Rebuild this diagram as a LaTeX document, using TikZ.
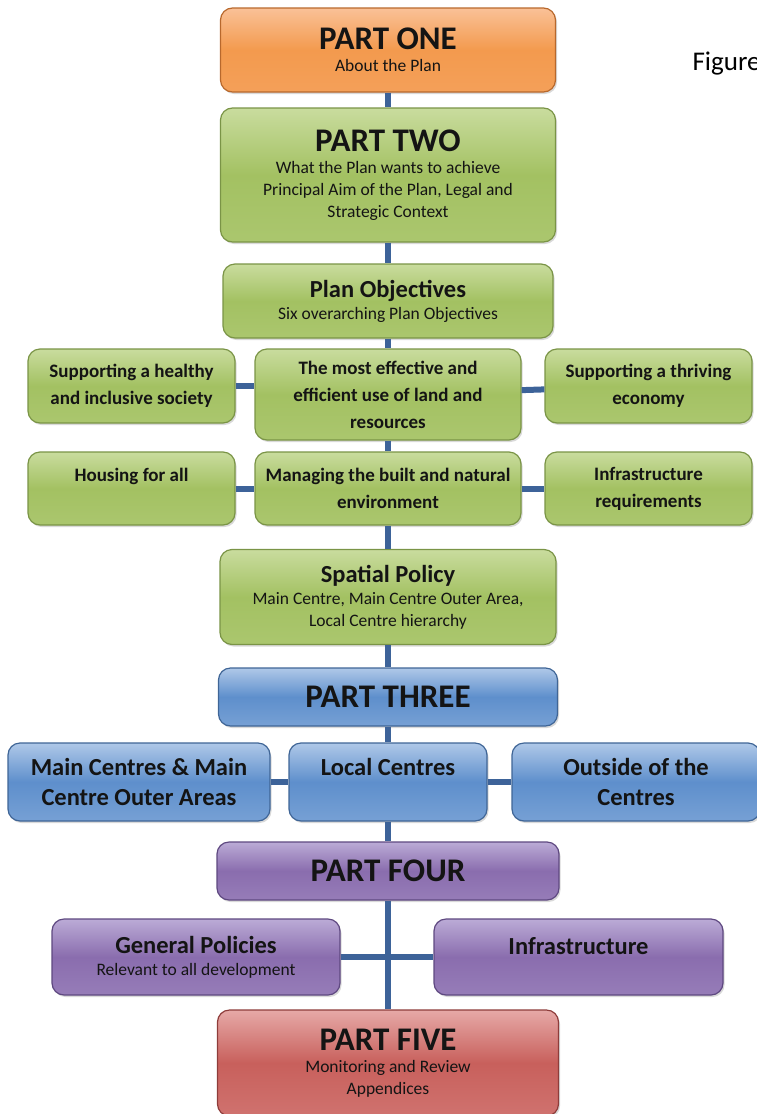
\documentclass[tikz,border=0pt]{standalone}
\usepackage{fontspec}
\setmainfont{Carlito}
\usetikzlibrary{shadows}

\definecolor{spine}{HTML}{3D6399}
\definecolor{orangeL}{HTML}{FAC197}
\definecolor{orangeM}{HTML}{F39A4E}
\definecolor{orangeD}{HTML}{B8682C}
\definecolor{greenL}{HTML}{C9DC9E}
\definecolor{greenM}{HTML}{A3C162}
\definecolor{greenD}{HTML}{7A9446}
\definecolor{blueL}{HTML}{AFC8E8}
\definecolor{blueM}{HTML}{5E8FCC}
\definecolor{blueD}{HTML}{3F6596}
\definecolor{purpleL}{HTML}{BBABD6}
\definecolor{purpleM}{HTML}{8A6DAE}
\definecolor{purpleD}{HTML}{5E4880}
\definecolor{redL}{HTML}{E6A9A7}
\definecolor{redM}{HTML}{C8605C}
\definecolor{redD}{HTML}{8E3C3A}

\newcommand\parttitle[1]{{\fontsize{33}{36}\selectfont\bfseries #1}}
\newcommand\midtitle[1]{{\fontsize{24.5}{28}\selectfont\bfseries #1}}

\begin{document}
\begin{tikzpicture}[x=1pt, y=-1pt,
    box/.style={draw, rounded corners=12pt, line width=1.2pt, align=center,
        text=black!92, inner sep=2pt,
        drop shadow={shadow xshift=1.5pt, shadow yshift=-2pt, opacity=.3}},
    orangebox/.style={box, draw=orangeD, top color=orangeL, bottom color=orangeM!85!orangeL, middle color=orangeM},
    greenbox/.style={box, draw=greenD, top color=greenL, bottom color=greenM!80!greenL, middle color=greenM},
    bluebox/.style={box, draw=blueD, top color=blueL, bottom color=blueM!70!blueL, middle color=blueM},
    purplebox/.style={box, draw=purpleD, top color=purpleL, bottom color=purpleM!75!purpleL, middle color=purpleM},
    redbox/.style={box, draw=redD, top color=redL, bottom color=redM!75!redL, middle color=redM},
    sub/.style={font=\fontsize{17.5}{22}\selectfont},
    small/.style={font=\fontsize{19}{27}\selectfont\bfseries},
    large/.style={font=\fontsize{24.5}{30}\selectfont\bfseries},
    link/.style={spine, line width=6pt}]
    \useasboundingbox (0,0) rectangle (757,1114);

    % part one and two
    \node[orangebox, sub, minimum width=335pt, minimum height=84pt] (p1) at (388,50)
        {\parttitle{PART ONE}\\About the Plan};
    \node[greenbox, sub, minimum width=335pt, minimum height=134pt] (p2) at (388,175)
        {\parttitle{PART TWO}\\What the Plan wants to achieve\\Principal Aim of the Plan, Legal and\\Strategic Context};

    % objectives
    \node[greenbox, sub, minimum width=330pt, minimum height=74pt] (obj) at (388,301)
        {\midtitle{Plan Objectives}\\Six overarching Plan Objectives};
    \node[greenbox, small, minimum width=266pt, minimum height=91pt] (eff) at (388,394.5)
        {The most effective and\\efficient use of land and\\resources};
    \node[greenbox, small, minimum width=207pt, minimum height=74pt] (health) at (131.5,386)
        {Supporting a healthy\\and inclusive society};
    \node[greenbox, small, minimum width=207pt, minimum height=74pt] (econ) at (648.5,386)
        {Supporting a thriving\\economy};
    \node[greenbox, small, minimum width=266pt, minimum height=73pt] (env) at (388,488.5)
        {Managing the built and natural\\environment};
    \node[greenbox, small, minimum width=207pt, minimum height=73pt] (house) at (131.5,488.5)
        {Housing for all\\\mbox{}};
    \node[greenbox, small, minimum width=207pt, minimum height=73pt] (infreq) at (648.5,488.5)
        {Infrastructure\\requirements};
    \node[greenbox, sub, minimum width=336pt, minimum height=95pt] (spat) at (388,597)
        {\midtitle{Spatial Policy}\\Main Centre, Main Centre Outer Area,\\Local Centre hierarchy};

    % part three
    \node[bluebox, minimum width=339pt, minimum height=58pt] (p3) at (388,697)
        {\parttitle{PART THREE}};
    \node[bluebox, large, minimum width=198pt, minimum height=78pt] (local) at (388,782)
        {Local Centres\\\mbox{}};
    \node[bluebox, large, minimum width=262pt, minimum height=78pt] (main) at (139,782)
        {Main Centres \& Main\\Centre Outer Areas};
    \node[bluebox, large, minimum width=248pt, minimum height=78pt] (outside) at (636,782)
        {Outside of the\\Centres};

    % part four
    \node[purplebox, minimum width=342pt, minimum height=58pt] (p4) at (388,871)
        {\parttitle{PART FOUR}};
    \node[purplebox, sub, minimum width=288pt, minimum height=76pt] (gen) at (196,957)
        {\midtitle{General Policies}\\Relevant to all development};
    \node[purplebox, sub, minimum width=289pt, minimum height=76pt] (infra) at (578.5,957)
        {\midtitle{Infrastructure}\\\mbox{}};

    % part five
    \node[redbox, sub, minimum width=341pt, minimum height=106pt] (p5) at (388,1063)
        {\parttitle{PART FIVE}\\Monitoring and Review\\Appendices};

    \node[anchor=base west, font=\fontsize{27}{30}\selectfont] (fig) at (689,70) {Figure};

    % connectors
    \draw[link] (p1) -- (p2);
    \draw[link] (p2) -- (obj);
    \draw[link] (obj) -- (eff);
    \draw[link] (eff) -- (env);
    \draw[link] (env) -- (spat);
    \draw[link] (spat) -- (p3);
    \draw[link] (p3) -- (local);
    \draw[link] (local) -- (p4);
    \draw[link] (p4) -- (p5);
    \draw[link] (health) -- (health -| eff.west);
    \draw[link] (eff) -- (econ);
    \draw[link] (house) -- (env);
    \draw[link] (env) -- (infreq);
    \draw[link] (main) -- (local);
    \draw[link] (local) -- (outside);
    \draw[link] (gen) -- (infra);
\end{tikzpicture}
\end{document}
